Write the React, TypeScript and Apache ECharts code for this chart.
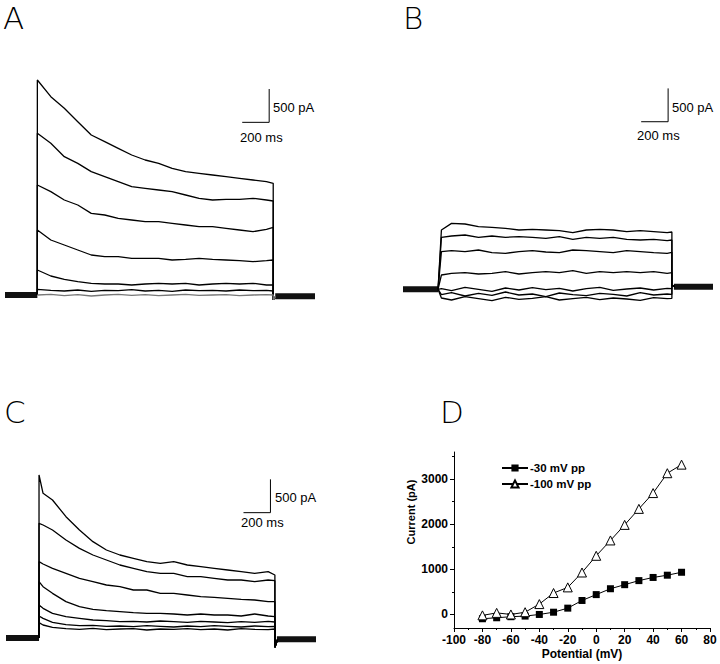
import React, { useEffect, useRef } from "react";
import * as echarts from "echarts";

// ---------- Panel A (ms, pA) ----------
const A_TIMES = [0, 100, 200, 300, 400, 500, 600, 700, 800, 900, 1000, 1100, 1200, 1300, 1400, 1500, 1600, 1700, 1750];
const A_T1 = [3225, 2975, 2800, 2600, 2400, 2300, 2200, 2100, 2025, 1975, 1900, 1850, 1825, 1800, 1775, 1750, 1725, 1700, 1675];
const A_T2 = [2425, 2275, 2075, 1975, 1850, 1775, 1700, 1625, 1600, 1575, 1550, 1500, 1450, 1425, 1435, 1435, 1450, 1425, 1410];
const A_T3 = [1650, 1550, 1425, 1350, 1225, 1200, 1150, 1125, 1100, 1100, 1075, 1050, 1025, 1025, 1000, 975, 950, 985, 1015];
const A_T4 = [975, 825, 750, 675, 600, 575, 575, 550, 550, 550, 525, 535, 550, 535, 525, 515, 500, 515, 525];
const A_T5 = [375, 285, 235, 200, 175, 165, 165, 150, 165, 175, 165, 175, 150, 165, 175, 165, 175, 150, 150];
const A_T6 = [85, 70, 60, 75, 55, 70, 65, 80, 60, 70, 55, 75, 65, 70, 60, 75, 65, 70, 60];
const A_T7 = [0, 10, -10, 5, -15, 0, 10, -5, 5, -10, 0, 10, -5, 0, 5, -10, 0, 5, 0];

// ---------- Panel B ----------
const B_TIMES = [25, 100, 200, 300, 400, 500, 600, 700, 800, 900, 1000, 1100, 1200, 1300, 1400, 1500, 1600, 1700, 1735];
const B_T1 = [890, 990, 980, 940, 930, 915, 890, 900, 890, 880, 850, 890, 900, 890, 865, 880, 865, 850, 860];
const B_T2 = [780, 800, 815, 780, 800, 780, 790, 780, 765, 790, 750, 780, 765, 780, 750, 740, 750, 730, 740];
const B_T3 = [565, 580, 565, 590, 550, 540, 565, 580, 560, 550, 590, 580, 565, 550, 580, 565, 550, 540, 555];
const B_T4 = [215, 240, 250, 230, 240, 265, 230, 250, 265, 250, 280, 240, 265, 250, 265, 250, 265, 240, 250];
const B_T5 = [10, -20, 30, 0, -30, 20, -10, 25, -5, 15, -25, 10, 30, -15, 5, 20, -10, 15, 10];
const B_T6 = [-80, -50, -100, -60, -90, -40, -85, -70, -110, -55, -80, -95, -60, -75, -100, -50, -85, -70, -75];
const B_T7 = [-130, -160, -110, -140, -170, -120, -150, -135, -110, -160, -140, -120, -155, -130, -145, -165, -125, -140, -135];

// ---------- Panel C ----------
const C_TIMES = [0, 30, 100, 200, 300, 400, 500, 600, 700, 800, 900, 1000, 1100, 1200, 1300, 1400, 1500, 1600, 1700, 1750];
const C_T1 = [2445, 2170, 2070, 1820, 1620, 1445, 1320, 1245, 1195, 1145, 1120, 1145, 1095, 1070, 1045, 1020, 995, 970, 995, 945];
const C_T2 = [1720, 1695, 1620, 1470, 1345, 1245, 1170, 1095, 1045, 995, 970, 970, 920, 920, 895, 870, 870, 845, 870, 860];
const C_T3 = [1145, 1110, 1045, 970, 895, 845, 795, 770, 720, 720, 670, 670, 645, 620, 610, 595, 580, 570, 545, 545];
const C_T4 = [845, 770, 670, 545, 470, 430, 410, 395, 380, 370, 370, 360, 345, 360, 345, 345, 330, 360, 330, 320];
const C_T5 = [495, 445, 370, 320, 295, 270, 260, 245, 250, 240, 255, 245, 235, 250, 240, 230, 245, 235, 250, 240];
const C_T6 = [330, 295, 235, 200, 185, 190, 175, 180, 170, 185, 175, 165, 180, 170, 185, 175, 165, 180, 170, 175];
const C_T7 = [230, 195, 160, 140, 130, 145, 125, 135, 140, 120, 135, 130, 140, 125, 135, 120, 140, 130, 125, 135];

// ---------- Panel D (I-V) ----------
const D_POTENTIAL = [-80, -70, -60, -50, -40, -30, -20, -10, 0, 10, 20, 30, 40, 50, 60];
const D_PP30 = [-95, -73, -50, -36, 0, 50, 140, 310, 440, 570, 660, 750, 820, 870, 935];
const D_PP100 = [-20, 35, 0, 50, 230, 475, 600, 930, 1300, 1640, 1985, 2340, 2690, 3130, 3320];
const D_NAMES = ["-30 mV pp", "-100 mV pp"];
const D_X_MIN = -100;
const D_X_MAX = 80;
const D_Y_LABELS = [0, 1000, 2000, 3000];
const D_Y_MINOR = [500, 1500, 2500, 3500];

const FONT = "Liberation Sans, Arial, sans-serif";

type Panel = {
  times: number[];
  traces: number[][];
  xMin: number;
  xMax: number;
  yMin: number;
  yMax: number;
  stepEnd: number;
  pre: number;
  post: number;
  dip: number;
  bar: [number, number];
};

const PANELS: Panel[] = [
  { times: A_TIMES, traces: [A_T1, A_T2, A_T3, A_T4, A_T5, A_T6, A_T7], xMin: -240, xMax: 2060, yMin: -225, yMax: 3375, stepEnd: 1750, pre: 0, post: -20, dip: -70, bar: [1720, 2590] },
  { times: B_TIMES, traces: [B_T1, B_T2, B_T3, B_T4, B_T5, B_T6, B_T7], xMin: -260, xMax: 2040, yMin: -310, yMax: 3290, stepEnd: 1735, pre: 0, post: 40, dip: 60, bar: [1707, 2514] },
  { times: C_TIMES, traces: [C_T1, C_T2, C_T3, C_T4, C_T5, C_T6, C_T7], xMin: -245, xMax: 2055, yMin: -330, yMax: 3270, stepEnd: 1750, pre: 0, post: -20, dip: -140, bar: [1717, 1880] },
];

const GRIDS = [
  { left: 5, top: 70, width: 310, height: 240 },
  { left: 403, top: 70, width: 310, height: 240 },
  { left: 6, top: 420, width: 310, height: 240 },
  { left: 454, top: 452, width: 256, height: 176 },
];

function buildOption() {
  const series: any[] = [];
  PANELS.forEach((p, pi) => {
    // baseline noise bands before and after the step
    series.push({
      type: "line", xAxisIndex: pi, yAxisIndex: pi, showSymbol: false, silent: true,
      lineStyle: { color: "#111", width: 6 },
      data: [[p.xMin, p.pre], [0, p.pre]],
    });
    series.push({
      type: "line", xAxisIndex: pi, yAxisIndex: pi, showSymbol: false, silent: true,
      lineStyle: { color: "#111", width: 6 },
      data: [[p.stepEnd + 15, p.post], [p.xMax, p.post]],
    });
    p.traces.forEach((vals, ti) => {
      const data: number[][] = [[0, p.pre]];
      p.times.forEach((t, i) => data.push([t, vals[i]]));
      data.push([p.stepEnd, p.dip]);
      data.push([p.stepEnd + 20, p.post]);
      series.push({
        type: "line", xAxisIndex: pi, yAxisIndex: pi, showSymbol: false, silent: true,
        lineStyle: { color: pi === 0 && ti === 6 ? "#777" : "#000", width: 1.3 },
        data,
      });
    });
    // scale bar: 200 ms x 500 pA
    const [bx, by] = p.bar;
    series.push({
      type: "line", xAxisIndex: pi, yAxisIndex: pi, showSymbol: false, silent: true,
      lineStyle: { color: "#000", width: 1 },
      data: [[bx - 200, by], [bx, by], [bx, by + 500]],
    });
  });

  series.push({
    name: D_NAMES[0], type: "line", xAxisIndex: 3, yAxisIndex: 3,
    symbol: "rect", symbolSize: 7,
    itemStyle: { color: "#000" },
    lineStyle: { color: "#000", width: 1 },
    data: D_POTENTIAL.map((x, i) => [x, D_PP30[i]]),
    z: 3,
  });
  series.push({
    name: D_NAMES[1], type: "line", xAxisIndex: 3, yAxisIndex: 3,
    symbol: "triangle", symbolSize: 9,
    itemStyle: { color: "#fff", borderColor: "#000", borderWidth: 1 },
    lineStyle: { color: "#000", width: 1 },
    data: D_POTENTIAL.map((x, i) => [x, D_PP100[i]]),
    z: 4,
  });

  const hiddenX = PANELS.map((p, i) => ({ type: "value", gridIndex: i, min: p.xMin, max: p.xMax, show: false }));
  const hiddenY = PANELS.map((p, i) => ({ type: "value", gridIndex: i, min: p.yMin, max: p.yMax, show: false }));

  const labelStyle = { color: "#000", fontFamily: FONT, fontWeight: "bold", fontSize: 12 };

  const letter = (t: string, x: number, y: number) => ({
    type: "text", left: x, top: y,
    style: { text: t, fontSize: 31, fontFamily: "DejaVu Sans", fontWeight: 200, fill: "#000" },
  });
  const scaleText = (t: string, x: number, y: number) => ({
    type: "text", left: x, top: y,
    style: { text: t, fontSize: 13, fontFamily: FONT, fill: "#000" },
  });

  return {
    animation: false,
    backgroundColor: "#fff",
    grid: GRIDS.map((g) => ({ ...g, containLabel: false })),
    legend: {
      data: D_NAMES,
      left: 496, top: 457, orient: "vertical",
      itemWidth: 26, itemHeight: 9, itemGap: 4,
      textStyle: { color: "#000", fontFamily: FONT, fontWeight: "bold", fontSize: 11.5, padding: [0, 0, 0, -3] },
      selectedMode: false,
    },
    xAxis: [
      ...hiddenX,
      {
        type: "value", gridIndex: 3, min: D_X_MIN, max: D_X_MAX, interval: 20,
        splitLine: { show: false },
        axisLine: { show: true, onZero: false, lineStyle: { color: "#000", width: 1 } },
        axisTick: { show: true, length: 4, lineStyle: { color: "#000" } },
        minorTick: { show: true, splitNumber: 2, length: 2, lineStyle: { color: "#000" } },
        axisLabel: { ...labelStyle, margin: 6, formatter: (v: number) => String(v) },
        name: "Potential (mV)", nameLocation: "middle", nameGap: 20,
        nameTextStyle: { ...labelStyle, fontSize: 12 },
      },
    ],
    yAxis: [
      ...hiddenY,
      {
        type: "value", gridIndex: 3, min: -300, max: 3600, position: "left",
        splitLine: { show: false },
        axisLine: { show: true, onZero: false, lineStyle: { color: "#000", width: 1 } },
        axisTick: { show: true, length: 4, customValues: D_Y_LABELS, lineStyle: { color: "#000" } },
        axisLabel: { ...labelStyle, margin: 6, customValues: D_Y_LABELS, formatter: (v: number) => String(v) },
      },
      {
        type: "value", gridIndex: 3, min: -300, max: 3600, position: "left",
        splitLine: { show: false },
        axisLine: { show: false, onZero: false },
        axisTick: { show: true, length: 2, customValues: D_Y_MINOR, lineStyle: { color: "#000" } },
        axisLabel: { show: false, customValues: D_Y_MINOR },
      },
    ],
    graphic: [
      letter("A", 3, 2),
      letter("B", 403, 2),
      letter("C", 4, 396),
      letter("D", 440, 396),
      scaleText("500 pA", 273, 101),
      scaleText("200 ms", 240, 131),
      scaleText("500 pA", 672, 101),
      scaleText("200 ms", 637, 129),
      scaleText("500 pA", 275, 491),
      scaleText("200 ms", 241, 516),
      {
        type: "text", x: 411, y: 512, rotation: Math.PI / 2,
        style: { text: "Current (pA)", fontSize: 11, fontFamily: FONT, fontWeight: "bold", fill: "#000", align: "center", verticalAlign: "middle" },
      },
    ],
    series,
  };
}

export default function App() {
  const ref = useRef<HTMLDivElement>(null);
  useEffect(() => {
    if (!ref.current) return;
    const chart = echarts.init(ref.current, undefined, { renderer: "svg" });
    chart.setOption(buildOption() as any);
    return () => chart.dispose();
  }, []);
  return (
    <div
      ref={ref}
      style={{ position: "absolute", left: 0, top: 0, width: 720, height: 664, background: "#fff" }}
    />
  );
}
